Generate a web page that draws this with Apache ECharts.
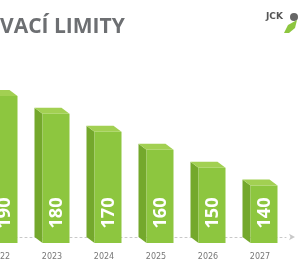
<!DOCTYPE html>
<html>
<head>
<meta charset="utf-8">
<script src="https://cdn.jsdelivr.net/npm/echarts@6/dist/echarts.min.js"></script>
<style>
  html, body { margin: 0; padding: 0; background: #fff; }
  #chart { width: 302px; height: 267px; }
</style>
</head>
<body>
<div id="chart"></div>
<script>
// data
var years = ['2022', '2023', '2024', '2025', '2026', '2027'];
var limits = [190, 180, 170, 160, 150, 140];
var titleText = 'VACÍ LIMITY';

var AXIS_MIN = 108;

// 3d box: back face + depth offset
function renderBox(params, api) {
    var val = api.value(1);
    var top = api.coord([api.value(0), val]);
    var base = api.coord([api.value(0), AXIS_MIN]);
    var c = top[0], yTop = top[1], yBase = base[1];
    var w = 27, dx = 8, dy = 6;
    var x0 = c - 17.5;
    return {
        type: 'group',
        children: [
            {
                type: 'polygon',
                shape: { points: [[x0, yTop], [x0 + dx, yTop + dy], [x0 + dx, yBase + dy], [x0, yBase]] },
                style: { fill: '#74a82c' }
            },
            {
                type: 'rect',
                shape: { x: x0 + dx, y: yTop + dy, width: w, height: yBase - yTop },
                style: { fill: '#8dc63f' }
            },
            {
                type: 'polygon',
                shape: { points: [[x0, yTop], [x0 + w, yTop], [x0 + w + dx, yTop + dy], [x0 + dx, yTop + dy]] },
                style: { fill: '#a2d052' }
            },
            {
                type: 'text',
                x: x0 + dx + w / 2 + 1,
                y: yBase - 24,
                rotation: Math.PI / 2,
                style: {
                    text: String(val),
                    fill: '#fff',
                    font: 'bold 18px "Open Sans", sans-serif',
                    align: 'center',
                    verticalAlign: 'middle'
                }
            }
        ]
    };
}

var option = {
    animation: false,
    grid: { left: 0, right: 16, top: 72, bottom: 30, outerBoundsMode: 'none', containLabel: false },
    xAxis: {
        type: 'value',
        min: 0,
        max: 5.5,
        interval: 1,
        splitLine: { show: false },
        axisLine: {
            show: true,
            symbol: ['none', 'arrow'],
            symbolSize: [5, 6],
            symbolOffset: [0, 9],
            lineStyle: { color: '#c8c8c8', type: [2, 3], width: 1 }
        },
        axisTick: { show: false },
        axisLabel: {
            color: '#777',
            fontSize: 8,
            fontFamily: 'DejaVu Sans',
            margin: 16,
            showMinLabel: true,
            hideOverlap: false,
            formatter: function (v) { return years[v] || ''; }
        }
    },
    yAxis: {
        type: 'value',
        min: AXIS_MIN,
        max: 200,
        show: false
    },
    series: [
        {
            type: 'custom',
            renderItem: renderBox,
            data: limits.map(function (v, i) { return [i, v]; })
        }
    ],
    graphic: [
        {
            type: 'text',
            left: 0,
            top: 17,
            style: {
                text: titleText,
                fill: '#6d6f72',
                font: 'bold 21px "Open Sans", sans-serif'
            }
        },
        // small logo top right
        {
            type: 'text',
            left: 266,
            top: 12,
            style: { text: 'JCK', fill: '#555', font: 'bold 9px "DejaVu Sans", sans-serif' }
        },
        {
            type: 'circle',
            shape: { cx: 294, cy: 17, r: 4 },
            style: { fill: '#666' }
        },
        {
            type: 'polygon',
            shape: { points: [[284, 33], [288, 25], [297, 20], [295, 28], [289, 33]] },
            style: { fill: '#8dc63f' }
        }
    ]
};

var chart = echarts.init(document.getElementById('chart'));
chart.setOption(option);
</script>
</body>
</html>
